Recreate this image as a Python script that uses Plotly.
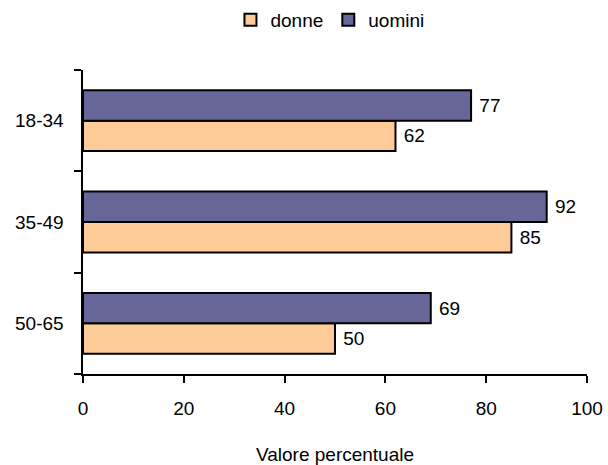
import plotly.graph_objects as go

categories = ["50-65", "35-49", "18-34"]
donne = [50, 85, 62]
uomini = [69, 92, 77]
x_ticks = [0, 20, 40, 60, 80, 100]

FONT = "Liberation Sans, Arial, sans-serif"

fig = go.Figure()
fig.add_trace(go.Bar(
    y=categories, x=donne, name="donne", orientation="h",
    marker=dict(color="#FFCC99", line=dict(color="black", width=2)),
    text=donne, texttemplate=" %{x}", textposition="outside", cliponaxis=False,
    textfont=dict(size=19, color="black", family=FONT),
))
fig.add_trace(go.Bar(
    y=categories, x=uomini, name="uomini", orientation="h",
    marker=dict(color="#666699", line=dict(color="black", width=2)),
    text=uomini, texttemplate=" %{x}", textposition="outside", cliponaxis=False,
    textfont=dict(size=19, color="black", family=FONT),
))

fig.update_layout(
    width=608, height=465,
    margin=dict(l=83, r=21, t=70, b=91, autoexpand=False),
    paper_bgcolor="white", plot_bgcolor="white",
    barmode="group", bargap=0.4, bargroupgap=0,
    font=dict(family=FONT, size=19, color="black"),
    showlegend=True,
    legend=dict(orientation="h", x=0.49, xanchor="center", y=1 - 20 / 465, yanchor="middle",
                yref="container", font=dict(size=19), traceorder="normal"),
    xaxis=dict(
        range=[0, 100], tickvals=x_ticks, showgrid=False, zeroline=False,
        showline=True, linecolor="black", linewidth=2,
        ticks="outside", ticklen=7, tickwidth=2, tickcolor="black",
        ticklabelstandoff=9, automargin=False,
        title=dict(text="Valore percentuale", standoff=31, font=dict(size=19)),
        tickfont=dict(size=19),
    ),
    yaxis=dict(
        categoryorder="array", categoryarray=categories,
        showgrid=False, showline=True, linecolor="black", linewidth=2,
        ticks="outside", ticklen=7, tickwidth=2, tickcolor="black",
        tickson="boundaries", tickfont=dict(size=19), ticksuffix="  ",
        ticklabelstandoff=3, automargin=False,
    ),
)

fig.write_html("out.html", config={"displayModeBar": False},
               post_script="document.body.style.margin='0';document.body.style.padding='0';")
